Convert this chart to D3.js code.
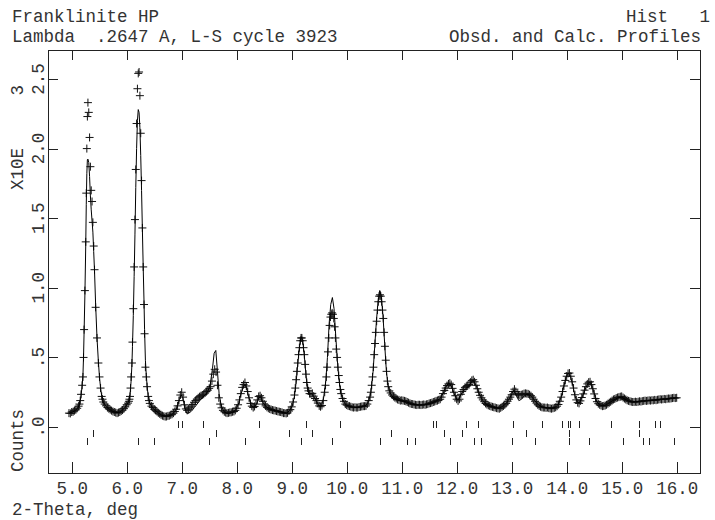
<!DOCTYPE html>
<html>
<head>
<meta charset="utf-8">
<script src="https://cdn.jsdelivr.net/npm/d3@7"></script>
<style>
body { margin: 0; background: #fff; }
svg { display: block; }
.label { font-family: "Liberation Mono", monospace; font-size: 17.5px; fill: #333; }
.frame { fill: none; stroke: #222; stroke-width: 1; shape-rendering: crispEdges; }
.refl { stroke: #222; stroke-width: 1; shape-rendering: crispEdges; }
</style>
</head>
<body>
<div id="profile"></div>
<script>
var obsProfile = [
    [4.950, 0.100], [4.975, 0.098], [5.000, 0.108], [5.025, 0.110], [5.050, 0.118], [5.075, 0.124], [5.100, 0.135], [5.125, 0.150],
    [5.14, 0.165], [5.155, 0.19], [5.17, 0.235], [5.19, 0.300], [5.205, 0.360], [5.215, 0.50], [5.225, 0.70], [5.24, 0.98],
    [5.255, 1.33], [5.265, 1.68], [5.275, 2.00], [5.285, 2.23], [5.295, 2.33], [5.31, 2.26], [5.325, 2.08], [5.34, 1.87],
    [5.355, 1.70], [5.37, 1.62], [5.385, 1.47], [5.40, 1.30], [5.415, 1.13], [5.435, 0.86], [5.46, 0.64], [5.485, 0.46],
    [5.505, 0.36], [5.525, 0.28], [5.545, 0.22], [5.56, 0.20], [5.575, 0.18],
    [5.600, 0.165], [5.625, 0.152], [5.650, 0.140], [5.675, 0.132], [5.700, 0.125], [5.725, 0.118], [5.750, 0.112], [5.775, 0.108],
    [5.800, 0.104], [5.825, 0.100], [5.850, 0.104], [5.875, 0.108], [5.900, 0.115], [5.925, 0.122], [5.950, 0.132], [5.975, 0.145],
    [6.000, 0.160], [6.025, 0.172],
    [6.04, 0.185], [6.05, 0.20], [6.06, 0.22], [6.07, 0.28], [6.08, 0.36], [6.095, 0.46], [6.105, 0.61], [6.12, 0.85],
    [6.135, 1.15], [6.15, 1.49], [6.165, 1.85], [6.18, 2.18], [6.195, 2.43], [6.21, 2.54], [6.225, 2.55], [6.24, 2.38],
    [6.255, 2.11], [6.27, 1.77], [6.285, 1.43], [6.30, 1.15], [6.315, 0.88], [6.325, 0.67], [6.34, 0.43], [6.355, 0.36],
    [6.37, 0.29], [6.39, 0.22], [6.405, 0.19], [6.42, 0.17],
    [6.450, 0.150], [6.475, 0.140], [6.500, 0.128], [6.525, 0.120], [6.550, 0.112], [6.575, 0.102], [6.600, 0.095], [6.625, 0.088],
    [6.650, 0.082], [6.675, 0.078], [6.700, 0.075], [6.725, 0.076], [6.750, 0.080], [6.775, 0.082], [6.800, 0.088], [6.825, 0.092],
    [6.850, 0.100], [6.875, 0.112], [6.900, 0.128], [6.925, 0.152], [6.950, 0.190], [6.975, 0.230], [7.000, 0.250], [7.025, 0.215],
    [7.050, 0.160], [7.075, 0.130], [7.100, 0.120], [7.125, 0.128], [7.150, 0.138], [7.175, 0.150], [7.200, 0.162], [7.225, 0.178],
    [7.250, 0.190], [7.275, 0.200], [7.300, 0.210], [7.325, 0.218], [7.350, 0.225], [7.375, 0.230], [7.400, 0.236], [7.425, 0.245],
    [7.450, 0.255], [7.475, 0.265], [7.500, 0.278], [7.525, 0.290], [7.550, 0.330], [7.575, 0.380], [7.600, 0.415], [7.625, 0.395],
    [7.650, 0.300], [7.675, 0.210], [7.700, 0.165], [7.725, 0.138], [7.750, 0.120], [7.775, 0.110], [7.800, 0.104], [7.825, 0.100],
    [7.850, 0.102], [7.875, 0.105], [7.900, 0.106], [7.925, 0.110], [7.950, 0.112], [7.975, 0.120], [8.000, 0.135], [8.025, 0.160],
    [8.050, 0.195], [8.075, 0.240], [8.100, 0.285], [8.125, 0.305], [8.150, 0.320], [8.175, 0.295], [8.200, 0.255], [8.225, 0.210],
    [8.250, 0.170], [8.275, 0.150], [8.300, 0.140], [8.325, 0.148], [8.350, 0.165], [8.375, 0.195], [8.400, 0.220], [8.425, 0.225],
    [8.450, 0.210], [8.475, 0.185], [8.500, 0.165], [8.525, 0.152], [8.550, 0.142], [8.575, 0.135], [8.600, 0.130], [8.625, 0.126],
    [8.650, 0.122], [8.675, 0.120], [8.700, 0.118], [8.725, 0.115], [8.750, 0.112], [8.775, 0.110], [8.800, 0.108], [8.825, 0.105],
    [8.850, 0.100], [8.875, 0.100], [8.900, 0.098], [8.925, 0.102], [8.950, 0.115], [8.975, 0.125], [9.000, 0.145], [9.025, 0.180],
    [9.05, 0.23], [9.065, 0.28], [9.08, 0.34], [9.095, 0.40], [9.11, 0.46], [9.125, 0.52], [9.14, 0.57], [9.155, 0.62],
    [9.17, 0.64], [9.185, 0.64], [9.20, 0.62], [9.215, 0.57], [9.23, 0.52], [9.245, 0.45], [9.26, 0.38], [9.275, 0.32],
    [9.29, 0.28], [9.305, 0.26],
    [9.325, 0.240], [9.350, 0.238], [9.375, 0.242], [9.400, 0.222], [9.425, 0.205], [9.450, 0.190], [9.475, 0.172], [9.500, 0.152],
    [9.525, 0.146], [9.550, 0.155], [9.575, 0.190], [9.600, 0.250],
    [9.615, 0.30], [9.63, 0.36], [9.645, 0.43], [9.66, 0.54], [9.675, 0.64], [9.69, 0.73], [9.705, 0.79], [9.72, 0.81],
    [9.735, 0.82], [9.75, 0.81], [9.765, 0.78], [9.78, 0.72], [9.795, 0.64], [9.81, 0.56], [9.825, 0.50], [9.84, 0.43],
    [9.855, 0.37], [9.87, 0.32], [9.885, 0.27],
    [9.900, 0.240], [9.925, 0.205], [9.950, 0.185], [9.975, 0.165], [10.000, 0.158], [10.025, 0.152], [10.050, 0.150], [10.075, 0.146],
    [10.100, 0.142], [10.125, 0.140], [10.150, 0.142], [10.175, 0.140], [10.200, 0.140], [10.225, 0.144], [10.250, 0.146], [10.275, 0.148],
    [10.300, 0.150], [10.325, 0.150], [10.350, 0.152], [10.375, 0.165], [10.400, 0.190], [10.425, 0.215],
    [10.44, 0.25], [10.455, 0.30], [10.47, 0.36], [10.485, 0.43], [10.50, 0.52], [10.515, 0.60], [10.53, 0.68], [10.545, 0.76],
    [10.56, 0.84], [10.575, 0.90], [10.59, 0.94], [10.605, 0.95], [10.62, 0.94], [10.635, 0.90], [10.65, 0.84], [10.665, 0.78],
    [10.68, 0.68], [10.695, 0.58], [10.71, 0.48], [10.725, 0.40], [10.74, 0.33], [10.755, 0.29],
    [10.775, 0.260], [10.800, 0.245], [10.825, 0.230], [10.850, 0.220], [10.875, 0.212], [10.900, 0.205], [10.925, 0.198], [10.950, 0.195],
    [10.975, 0.190], [11.000, 0.192], [11.025, 0.190], [11.050, 0.188], [11.075, 0.185], [11.100, 0.180], [11.125, 0.175], [11.150, 0.170],
    [11.175, 0.166], [11.200, 0.165], [11.225, 0.162], [11.250, 0.160], [11.275, 0.158], [11.300, 0.160], [11.325, 0.160], [11.350, 0.158],
    [11.375, 0.160], [11.400, 0.162], [11.425, 0.160], [11.450, 0.163], [11.475, 0.165], [11.500, 0.170], [11.525, 0.172], [11.550, 0.175],
    [11.575, 0.180], [11.600, 0.183], [11.625, 0.188], [11.650, 0.190], [11.675, 0.195], [11.700, 0.200], [11.725, 0.215], [11.750, 0.240],
    [11.775, 0.262], [11.800, 0.280], [11.825, 0.298], [11.850, 0.310], [11.875, 0.315], [11.900, 0.305], [11.925, 0.278], [11.950, 0.250],
    [11.975, 0.225], [12.000, 0.200], [12.025, 0.188], [12.050, 0.200], [12.075, 0.235], [12.100, 0.255], [12.125, 0.270], [12.150, 0.285],
    [12.175, 0.292], [12.200, 0.298], [12.225, 0.305], [12.250, 0.322], [12.275, 0.335], [12.300, 0.340], [12.325, 0.325], [12.350, 0.300],
    [12.375, 0.275], [12.400, 0.250], [12.425, 0.228], [12.450, 0.210], [12.475, 0.195], [12.500, 0.182], [12.525, 0.170], [12.550, 0.162],
    [12.575, 0.156], [12.600, 0.152], [12.625, 0.148], [12.650, 0.145], [12.675, 0.142], [12.700, 0.140], [12.725, 0.136], [12.750, 0.134],
    [12.775, 0.132], [12.800, 0.138], [12.825, 0.145], [12.850, 0.152], [12.875, 0.160], [12.900, 0.170], [12.925, 0.185], [12.950, 0.200],
    [12.975, 0.215], [13.000, 0.232], [13.025, 0.255], [13.050, 0.272], [13.075, 0.255], [13.100, 0.240], [13.125, 0.232], [13.150, 0.230],
    [13.175, 0.232], [13.200, 0.235], [13.225, 0.240], [13.250, 0.242], [13.275, 0.240], [13.300, 0.238], [13.325, 0.232], [13.350, 0.225],
    [13.375, 0.215], [13.400, 0.200], [13.425, 0.185], [13.450, 0.172], [13.475, 0.160], [13.500, 0.152], [13.525, 0.146], [13.550, 0.142],
    [13.575, 0.140], [13.600, 0.140], [13.625, 0.138], [13.650, 0.140], [13.675, 0.136], [13.700, 0.134], [13.725, 0.132], [13.750, 0.135],
    [13.775, 0.138], [13.800, 0.142], [13.825, 0.150], [13.850, 0.162], [13.875, 0.185], [13.900, 0.215], [13.925, 0.255], [13.950, 0.295],
    [13.975, 0.335], [14.000, 0.365], [14.025, 0.385], [14.050, 0.388], [14.075, 0.365], [14.100, 0.325], [14.125, 0.280], [14.150, 0.232],
    [14.175, 0.195], [14.200, 0.175], [14.225, 0.170], [14.250, 0.188], [14.275, 0.212], [14.300, 0.238], [14.325, 0.265], [14.350, 0.290],
    [14.375, 0.310], [14.400, 0.322], [14.425, 0.325], [14.450, 0.305], [14.475, 0.275], [14.500, 0.238], [14.525, 0.205], [14.550, 0.182],
    [14.575, 0.168], [14.600, 0.160], [14.625, 0.155], [14.650, 0.150], [14.675, 0.152], [14.700, 0.155], [14.725, 0.160], [14.750, 0.168],
    [14.775, 0.175], [14.800, 0.182], [14.825, 0.190], [14.850, 0.198], [14.875, 0.202], [14.900, 0.208], [14.925, 0.212], [14.950, 0.215],
    [14.975, 0.218], [15.000, 0.220], [15.025, 0.212], [15.050, 0.205], [15.075, 0.198], [15.100, 0.192], [15.125, 0.188], [15.150, 0.185],
    [15.175, 0.182], [15.200, 0.180], [15.225, 0.180], [15.250, 0.182], [15.275, 0.180], [15.300, 0.182], [15.325, 0.185], [15.350, 0.183],
    [15.375, 0.186], [15.400, 0.188], [15.425, 0.190], [15.450, 0.188], [15.475, 0.190], [15.500, 0.192], [15.525, 0.190], [15.550, 0.193],
    [15.575, 0.192], [15.600, 0.195], [15.625, 0.193], [15.650, 0.196], [15.675, 0.198], [15.700, 0.200], [15.725, 0.198], [15.750, 0.200],
    [15.775, 0.202], [15.800, 0.200], [15.825, 0.203], [15.850, 0.205], [15.875, 0.204], [15.900, 0.206], [15.925, 0.208], [15.950, 0.210],
    [15.975, 0.208], [16.000, 0.210]
];

// calculated profile: 2-theta steps and counts x10^3
var calcTheta = [
    4.95, 5.00, 5.05, 5.10, 5.14, 5.17, 5.19, 5.205, 5.215, 5.225,
    5.24, 5.255, 5.265, 5.275, 5.285, 5.295, 5.31, 5.325, 5.34, 5.355,
    5.37, 5.385, 5.40, 5.415, 5.435, 5.46, 5.485, 5.505, 5.525, 5.545,
    5.575, 5.62, 5.665, 5.72, 5.77, 5.82, 5.87, 5.91, 5.96, 6.00,
    6.04, 6.06, 6.08, 6.095, 6.105, 6.12, 6.135, 6.15, 6.165, 6.18,
    6.195, 6.21, 6.225, 6.24, 6.255, 6.27, 6.285, 6.30, 6.315, 6.325,
    6.34, 6.355, 6.37, 6.39, 6.42, 6.47, 6.52, 6.58, 6.64, 6.70,
    6.76, 6.82, 6.87, 6.92, 6.96, 6.99, 7.02, 7.05, 7.09, 7.13,
    7.18, 7.23, 7.28, 7.33, 7.38, 7.43, 7.48, 7.52, 7.56, 7.59,
    7.62, 7.65, 7.68, 7.72, 7.77, 7.82, 7.88, 7.94, 7.99, 8.04,
    8.08, 8.12, 8.15, 8.18, 8.22, 8.26, 8.31, 8.36, 8.40, 8.44,
    8.48, 8.53, 8.60, 8.67, 8.73, 8.80, 8.86, 8.91, 8.96, 9.01,
    9.05, 9.08, 9.11, 9.14, 9.17, 9.20, 9.23, 9.26, 9.29, 9.32,
    9.36, 9.40, 9.45, 9.50, 9.54, 9.58, 9.62, 9.65, 9.68, 9.71,
    9.74, 9.77, 9.80, 9.83, 9.86, 9.89, 9.93, 9.98, 10.05, 10.12,
    10.20, 10.28, 10.35, 10.40, 10.44, 10.48, 10.51, 10.54, 10.57, 10.60,
    10.63, 10.66, 10.69, 10.72, 10.75, 10.79, 10.84, 10.90, 10.97, 11.04,
    11.10, 11.18, 11.26, 11.34, 11.42, 11.50, 11.58, 11.64, 11.70, 11.75,
    11.80, 11.85, 11.89, 11.93, 11.97, 12.01, 12.04, 12.08, 12.12, 12.16,
    12.21, 12.26, 12.30, 12.34, 12.38, 12.43, 12.48, 12.55, 12.62, 12.70,
    12.77, 12.84, 12.90, 12.95, 13.00, 13.04, 13.08, 13.13, 13.18, 13.23,
    13.28, 13.33, 13.38, 13.44, 13.50, 13.57, 13.65, 13.72, 13.79, 13.85,
    13.90, 13.95, 13.99, 14.03, 14.07, 14.11, 14.15, 14.19, 14.23, 14.27,
    14.31, 14.35, 14.39, 14.43, 14.47, 14.51, 14.55, 14.60, 14.66, 14.72,
    14.79, 14.86, 14.93, 15.00, 15.06, 15.12, 15.19, 15.26, 15.33, 15.40,
    15.47, 15.54, 15.61, 15.68, 15.75, 15.82, 15.89, 15.95, 16.00
];
var calcCounts = [
    0.100, 0.105, 0.115, 0.132, 0.160, 0.225, 0.300, 0.380, 0.500, 0.680,
    0.950, 1.300, 1.600, 1.820, 1.920, 1.925, 1.900, 1.800, 1.660, 1.560,
    1.480, 1.400, 1.260, 1.120, 0.880, 0.640, 0.470, 0.360, 0.280, 0.225,
    0.180, 0.150, 0.135, 0.118, 0.108, 0.104, 0.108, 0.118, 0.136, 0.158,
    0.190, 0.230, 0.330, 0.450, 0.580, 0.800, 1.080, 1.380, 1.720, 2.000,
    2.200, 2.280, 2.260, 2.150, 1.950, 1.700, 1.420, 1.150, 0.900, 0.700,
    0.480, 0.380, 0.300, 0.225, 0.170, 0.138, 0.118, 0.100, 0.085, 0.078,
    0.080, 0.090, 0.108, 0.145, 0.200, 0.230, 0.210, 0.150, 0.100, 0.100,
    0.115, 0.140, 0.165, 0.190, 0.215, 0.230, 0.260, 0.310, 0.420, 0.530,
    0.550, 0.400, 0.240, 0.150, 0.110, 0.098, 0.100, 0.108, 0.128, 0.175,
    0.240, 0.290, 0.305, 0.280, 0.215, 0.160, 0.140, 0.165, 0.210, 0.215,
    0.175, 0.148, 0.130, 0.120, 0.115, 0.110, 0.102, 0.100, 0.118, 0.150,
    0.220, 0.320, 0.450, 0.570, 0.650, 0.620, 0.510, 0.370, 0.270, 0.235,
    0.240, 0.220, 0.185, 0.150, 0.150, 0.210, 0.330, 0.500, 0.740, 0.880,
    0.930, 0.850, 0.660, 0.480, 0.340, 0.250, 0.195, 0.160, 0.150, 0.142,
    0.140, 0.148, 0.155, 0.185, 0.250, 0.400, 0.580, 0.760, 0.900, 0.980,
    0.940, 0.800, 0.600, 0.410, 0.300, 0.245, 0.215, 0.200, 0.188, 0.185,
    0.178, 0.165, 0.160, 0.158, 0.160, 0.168, 0.178, 0.190, 0.205, 0.240,
    0.285, 0.315, 0.305, 0.265, 0.225, 0.195, 0.200, 0.235, 0.260, 0.275,
    0.290, 0.320, 0.335, 0.310, 0.270, 0.220, 0.188, 0.160, 0.148, 0.140,
    0.135, 0.150, 0.170, 0.200, 0.235, 0.265, 0.230, 0.190, 0.200, 0.225,
    0.235, 0.230, 0.210, 0.180, 0.155, 0.142, 0.138, 0.135, 0.140, 0.165,
    0.215, 0.295, 0.360, 0.385, 0.365, 0.300, 0.225, 0.180, 0.175, 0.205,
    0.245, 0.285, 0.315, 0.320, 0.285, 0.225, 0.180, 0.160, 0.152, 0.160,
    0.178, 0.195, 0.210, 0.215, 0.200, 0.188, 0.180, 0.182, 0.185, 0.188,
    0.190, 0.192, 0.195, 0.198, 0.200, 0.202, 0.205, 0.208, 0.210
];

// reflection positions for the three phases (one row each)
var phase1Refl = [6.94, 7.01, 7.38, 8.405, 9.26, 9.88, 11.575, 11.625, 12.165, 12.38,
    13.02, 13.555, 13.91, 14.025, 14.055, 14.23, 14.805, 15.315, 15.605, 15.695];
var phase2Refl = [5.393, 7.624, 8.956, 9.364, 10.805, 11.775, 12.091, 13.26, 14.047, 15.315];
var phase3Refl = [5.284, 6.2, 6.491, 7.496, 8.156, 9.169, 9.738, 10.6, 11.091, 11.242,
    11.878, 12.315, 12.442, 13.0, 13.424, 14.047, 14.411, 15.018, 15.382, 15.496, 15.951];

var xTicks = [5, 6, 7, 8, 9, 10, 11, 12, 13, 14, 15, 16];
var xTickLabels = ["5.0", "6.0", "7.0", "8.0", "9.0", "10.0", "11.0", "12.0", "13.0", "14.0", "15.0", "16.0"];
var yTicks = [0, 0.5, 1.0, 1.5, 2.0, 2.5];
var yTickLabels = [".0", ".5", "1.0", "1.5", "2.0", "2.5"];

/**
 * Constructor for the powder profile plot
 */
function ProfilePlot(){
    var self = this;
    self.init();
};

/**
 * Sets up the svg, the plot box and the scales
 */
ProfilePlot.prototype.init = function(){
    var self = this;
    self.box = {left: 48, right: 700, top: 50, bottom: 473};

    self.svg = d3.select("#profile").append("svg")
        .attr("width", 715)
        .attr("height", 520);

    self.xScale = d3.scaleLinear()
        .domain([4.569, 16.424])
        .range([self.box.left, self.box.right]);
    self.yScale = d3.scaleLinear()
        .domain([-0.330, 2.708])
        .range([self.box.bottom, self.box.top]);
};

/**
 * Draws frame, axes, profiles, reflection marks and the texts
 */
ProfilePlot.prototype.update = function(){
    var self = this;
    var x = self.xScale, y = self.yScale, b = self.box;

    self.svg.append("rect").attr("class", "frame")
        .attr("x", b.left).attr("y", b.top)
        .attr("width", b.right - b.left).attr("height", b.bottom - b.top);

    //ticks all point into the box
    var bottomAxis = d3.axisBottom(x).tickValues(xTicks).tickSize(-11).tickSizeOuter(0)
        .tickPadding(8.5)
        .tickFormat(function(d, i){ return xTickLabels[i]; });
    var topAxis = d3.axisTop(x).tickValues(xTicks).tickSize(-10).tickSizeOuter(0).tickFormat("");
    var leftAxis = d3.axisLeft(y).tickValues(yTicks).tickSize(-10).tickSizeOuter(0).tickFormat("");
    var rightAxis = d3.axisRight(y).tickValues(yTicks).tickSize(-10).tickSizeOuter(0).tickFormat("");

    var gb = self.svg.append("g").attr("transform", "translate(0," + b.bottom + ")").call(bottomAxis);
    var gt = self.svg.append("g").attr("transform", "translate(0," + b.top + ")").call(topAxis);
    var gl = self.svg.append("g").attr("transform", "translate(" + b.left + ",0)").call(leftAxis);
    var gr = self.svg.append("g").attr("transform", "translate(" + b.right + ",0)").call(rightAxis);
    [gb, gt, gl, gr].forEach(function(g){
        g.select(".domain").remove();
        g.attr("color", "#222");
        g.selectAll("line").style("shape-rendering", "crispEdges");
    });
    gb.selectAll("text").attr("class", "label");
    gb.attr("font-size", null).attr("font-family", null);

    //y labels are written sideways
    self.svg.append("g").selectAll("text")
        .data(yTicks)
        .enter().append("text")
        .attr("class", "label")
        .attr("text-anchor", "middle")
        .attr("transform", function(d){ return "translate(44," + y(d) + ") rotate(-90)"; })
        .text(function(d, i){ return yTickLabels[i]; });

    //observed points as crosses
    self.svg.append("g").selectAll("path")
        .data(obsProfile)
        .enter().append("path")
        .attr("d", function(d){
            var px = x(d[0]), py = y(d[1]);
            return "M" + (px - 4) + "," + py + "h8M" + px + "," + (py - 4) + "v8";
        })
        .attr("stroke", "#111")
        .attr("stroke-width", 1)
        .attr("fill", "none");

    //calculated profile
    var line = d3.line()
        .x(function(d){ return x(d); })
        .y(function(d, i){ return y(calcCounts[i]); });
    self.svg.append("path")
        .datum(calcTheta)
        .attr("d", line)
        .attr("fill", "none")
        .attr("stroke", "#000")
        .attr("stroke-width", 1);

    //reflection marks, one row per phase
    var rows = [{refl: phase1Refl, top: 421}, {refl: phase2Refl, top: 430}, {refl: phase3Refl, top: 438}];
    rows.forEach(function(row){
        self.svg.append("g").selectAll("line")
            .data(row.refl)
            .enter().append("line")
            .attr("class", "refl")
            .attr("x1", function(d){ return Math.round(x(d)) + 0.5; })
            .attr("x2", function(d){ return Math.round(x(d)) + 0.5; })
            .attr("y1", row.top)
            .attr("y2", row.top + 7);
    });

    //titles
    self.svg.append("text").attr("class", "label").attr("x", 12).attr("y", 22).text("Franklinite HP");
    self.svg.append("text").attr("class", "label").attr("x", 12).attr("y", 42)
        .style("white-space", "pre")
        .text("Lambda  .2647 A, L-S cycle 3923");
    self.svg.append("text").attr("class", "label").attr("x", 710).attr("y", 22)
        .attr("text-anchor", "end").style("white-space", "pre").text("Hist   1");
    self.svg.append("text").attr("class", "label").attr("x", 701).attr("y", 42)
        .attr("text-anchor", "end").text("Obsd. and Calc. Profiles");
    self.svg.append("text").attr("class", "label").attr("x", 12).attr("y", 515).text("2-Theta, deg");
    self.svg.append("text").attr("class", "label")
        .attr("transform", "translate(23,190) rotate(-90)")
        .style("white-space", "pre").text("X10E     3");
    self.svg.append("text").attr("class", "label")
        .attr("transform", "translate(23,472) rotate(-90)")
        .text("Counts");
};

var plot = new ProfilePlot();
plot.update();
</script>
</body>
</html>
